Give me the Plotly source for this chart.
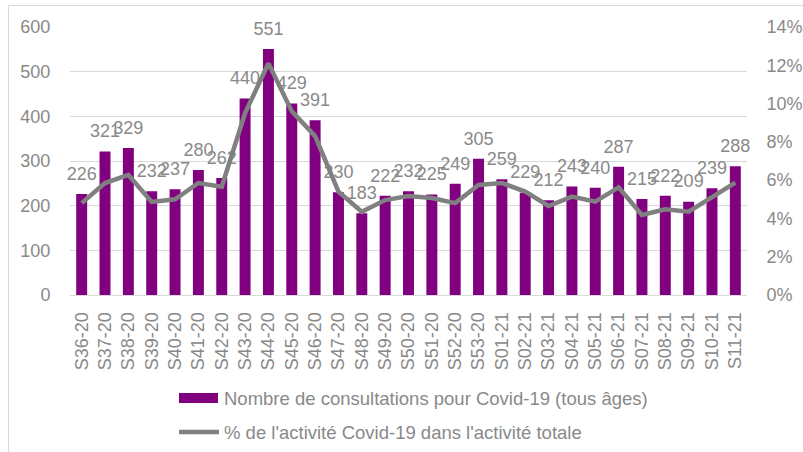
import plotly.graph_objects as go

weeks = ["S36-20", "S37-20", "S38-20", "S39-20", "S40-20", "S41-20", "S42-20", "S43-20",
         "S44-20", "S45-20", "S46-20", "S47-20", "S48-20", "S49-20", "S50-20", "S51-20",
         "S52-20", "S53-20", "S01-21", "S02-21", "S03-21", "S04-21", "S05-21", "S06-21",
         "S07-21", "S08-21", "S09-21", "S10-21", "S11-21"]
consultations = [226, 321, 329, 232, 237, 280, 262, 440, 551, 429, 391, 230, 183, 222,
                 232, 225, 249, 305, 259, 229, 212, 243, 240, 287, 215, 222, 209, 239, 288]
pct_activity = [4.8, 5.85, 6.27, 4.86, 5.0, 5.85, 5.66, 9.5, 12.1, 9.6, 8.3, 5.4, 4.35, 4.96,
                5.17, 5.07, 4.8, 5.75, 5.85, 5.4, 4.65, 5.14, 4.88, 5.62, 4.18, 4.48, 4.35,
                5.14, 5.87]
legend_bar = "Nombre de consultations pour Covid-19 (tous âges)"
legend_line = "% de l'activité Covid-19 dans l'activité totale"

FONT = "Liberation Sans, Arial, sans-serif"
GRAY = "#898989"
PURPLE = "#800080"
LINEGRAY = "#808080"

W, H = 803, 452
L, R, T, B = 70, 56, 27, 157
PW, PH = W - L - R, H - T - B


def px(x):
    return (x - L) / PW


def py(y):
    return (H - B - y) / PH


fig = go.Figure()
fig.add_trace(go.Bar(
    x=weeks, y=consultations, name=legend_bar,
    marker=dict(color=PURPLE, line=dict(width=0)),
    showlegend=False,
))
fig.add_trace(go.Scatter(
    x=weeks, y=consultations, mode="markers+text",
    marker=dict(size=14, color="rgba(0,0,0,0)"),
    text=[str(v) for v in consultations], textposition="top center",
    textfont=dict(size=18, color=GRAY, family=FONT),
    cliponaxis=False, showlegend=False, hoverinfo="skip",
))
fig.add_trace(go.Scatter(
    x=weeks, y=pct_activity, yaxis="y2", mode="lines", name=legend_line,
    line=dict(color=LINEGRAY, width=4.5), showlegend=False,
))

shapes = [
    dict(type="rect", xref="paper", yref="paper", x0=px(8.5), x1=px(820),
         y0=py(470), y1=py(5.5), line=dict(color="#d9d9d9", width=1),
         fillcolor="rgba(0,0,0,0)", layer="below"),
    dict(type="rect", xref="paper", yref="paper", x0=px(179), x1=px(218),
         y0=py(403), y1=py(393), line=dict(width=0), fillcolor=PURPLE),
    dict(type="line", xref="paper", yref="paper", x0=px(179), x1=px(219),
         y0=py(432), y1=py(432), line=dict(color=LINEGRAY, width=4.5)),
]
annotations = [
    dict(text=legend_bar, xref="paper", yref="paper", x=px(222), y=py(398),
         xanchor="left", yanchor="middle", showarrow=False,
         font=dict(size=18.5, color=GRAY, family=FONT)),
    dict(text=legend_line, xref="paper", yref="paper", x=px(222), y=py(432),
         xanchor="left", yanchor="middle", showarrow=False,
         font=dict(size=18.5, color=GRAY, family=FONT)),
]

fig.update_layout(
    width=W, height=H,
    margin=dict(l=L, r=R, t=T, b=B, autoexpand=False),
    paper_bgcolor="white", plot_bgcolor="white",
    font=dict(family=FONT, color=GRAY, size=18),
    bargap=0.53,
    showlegend=False,
    xaxis=dict(tickangle=-90, tickfont=dict(size=18, color=GRAY), showgrid=False,
               tickmode="linear", tick0=0, dtick=1, range=[-0.5, len(weeks) - 0.5],
               showline=True, linecolor="#d9d9d9", linewidth=1, ticks="outside",
               ticklen=9, tickcolor="rgba(0,0,0,0)", automargin=False),
    yaxis=dict(range=[0, 600], dtick=100, showgrid=True, gridcolor="#d9d9d9", gridwidth=1,
               zeroline=False, tickfont=dict(size=18, color=GRAY), ticks="outside",
               ticklen=15, tickcolor="rgba(0,0,0,0)", automargin=False),
    yaxis2=dict(range=[0, 14], dtick=2, overlaying="y", side="right", showgrid=False,
                zeroline=False, ticksuffix="%", tickfont=dict(size=18, color=GRAY),
                ticks="outside", ticklen=15, tickcolor="rgba(0,0,0,0)", automargin=False),
    shapes=shapes,
    annotations=annotations,
)

fig.write_html("out.html", config={"displayModeBar": False},
               post_script="document.body.style.margin='0';")
